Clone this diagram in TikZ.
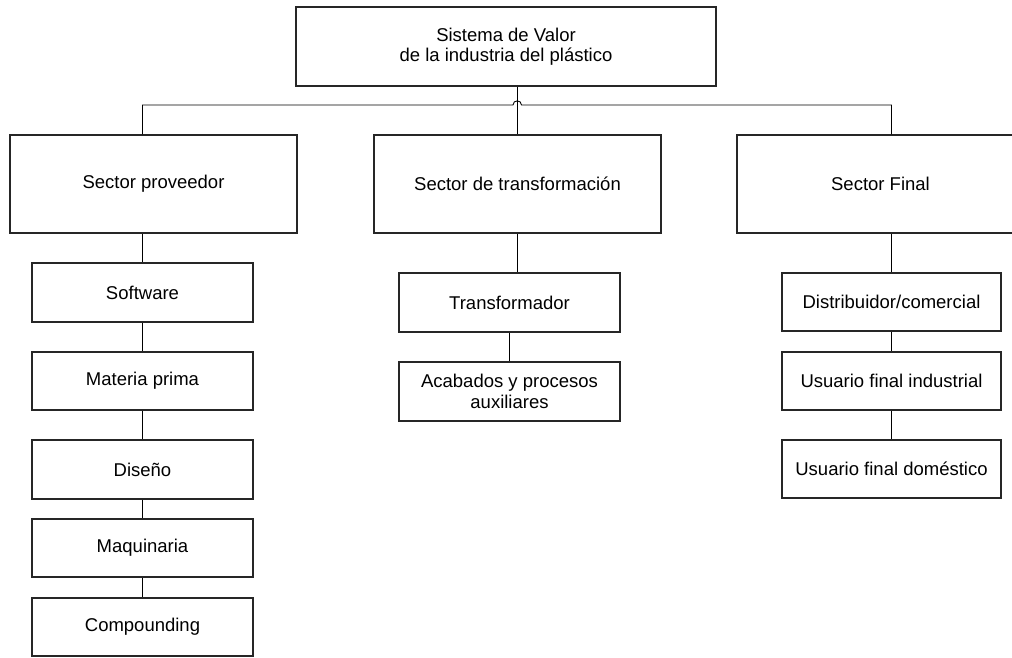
\documentclass[tikz,border=0pt]{standalone}
\usepackage{fontspec}
\setmainfont{Liberation Sans}
\usetikzlibrary{calc}
\begin{document}
\begin{tikzpicture}[x=1pt,y=-1pt,
  box/.style={draw=black!85,line width=1.1pt,fill=white,rectangle,inner sep=0pt,
    align=center,font=\fontsize{18.5}{20.5}\selectfont},
  sectorbox/.style={box,minimum width=287pt,minimum height=98pt},
  itembox/.style={box,minimum width=221pt,minimum height=59pt},
  link/.style={draw=black,line width=0.9pt}]
\useasboundingbox (0,0) rectangle (1012,657);
\clip (0,0) rectangle (1012,657);

% root
\node[box,minimum width=420pt,minimum height=79pt] (root) at (506,46.5)
  {Sistema de Valor\\de la industria del plástico};

% sectors
\node[sectorbox] (prov) at (153.5,184) {Sector proveedor};
\node[sectorbox] (trf)  at (517.5,184) {Sector de transformación};
\node[sectorbox,minimum width=310pt] (fin) at (892,184) {\hspace*{-23pt}Sector Final};

% supplier chain
\node[itembox] (soft) at (142.5,292.5) {Software};
\node[itembox,minimum height=58pt] (mat)  at (142.5,381) {Materia prima};
\node[itembox] (dis)  at (142.5,469.5) {Diseño};
\node[itembox,minimum height=58pt] (maq)  at (142.5,548) {Maquinaria};
\node[itembox,minimum height=58pt] (comp) at (142.5,627) {Compounding};

% transformation chain
\node[itembox] (tra) at (509.5,302.5) {Transformador};
\node[itembox] (aca) at (509.5,391.5) {Acabados y procesos\\auxiliares};

% final chain
\node[itembox,minimum width=219pt,minimum height=58pt] (dist) at (891.5,302) {Distribuidor/comercial};
\node[itembox,minimum width=219pt,minimum height=58pt] (ufi)  at (891.5,381) {Usuario final industrial};
\node[itembox,minimum width=219pt,minimum height=58pt] (ufd)  at (891.5,469) {Usuario final doméstico};

% bus from the root to the three sectors
\coordinate (busL) at (142.5,105);
\coordinate (busR) at (891.5,105);
\coordinate (hopA) at (513,105);
\coordinate (hopB) at (521.5,105);
\draw[link] (busL |- prov.north) -- (busL) -- (hopA)
  .. controls ($(hopA)+(0,-5.5)$) and ($(hopB)+(0,-5.5)$) .. (hopB)
  -- (busR) -- (busR |- fin.north);
\draw[link] (root.south -| trf.north) -- (trf.north);

% sector to chain links
\draw[link] (soft.north |- prov.south) -- (soft.north);
\draw[link] (soft.south) -- (mat.north);
\draw[link] (mat.south) -- (dis.north);
\draw[link] (dis.south) -- (maq.north);
\draw[link] (maq.south) -- (comp.north);

\draw[link] (trf.south) -- (trf.south |- tra.north);
\draw[link] (tra.south) -- (aca.north);

\draw[link] (dist.north |- fin.south) -- (dist.north);
\draw[link] (dist.south) -- (ufi.north);
\draw[link] (ufi.south) -- (ufd.north);
\end{tikzpicture}
\end{document}
